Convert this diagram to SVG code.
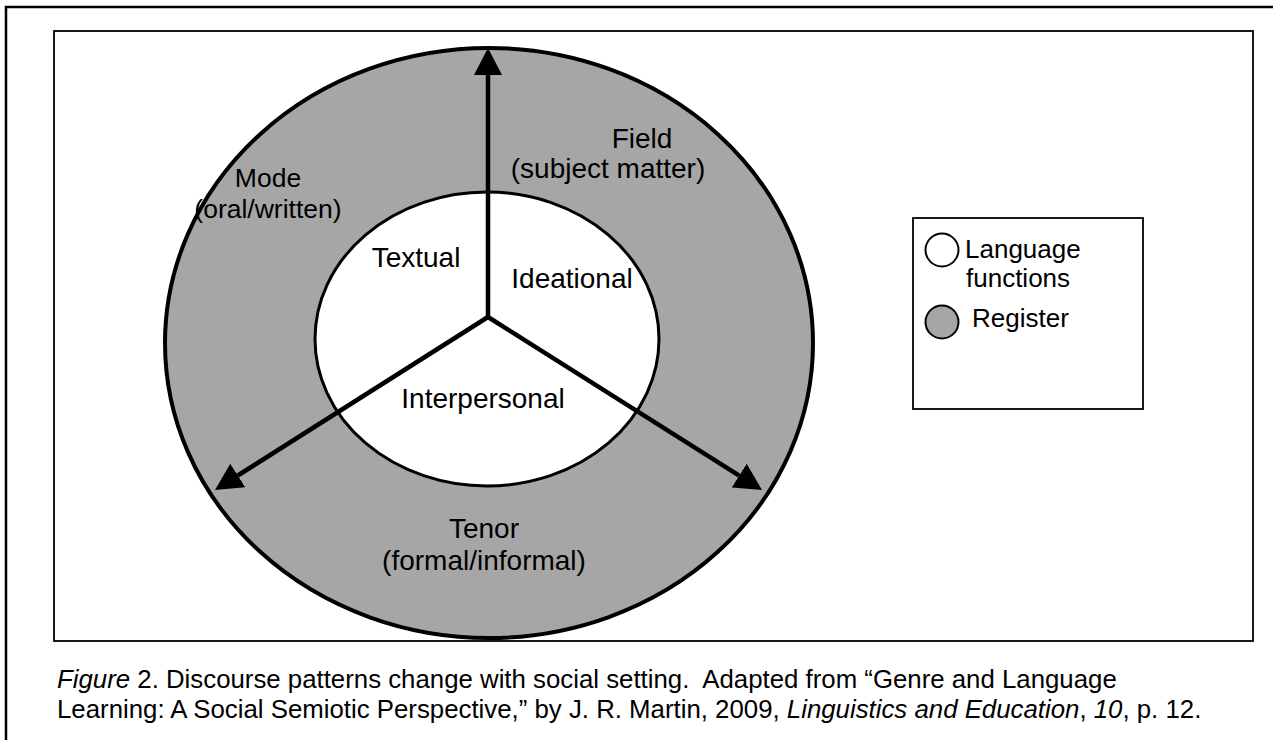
<svg xmlns="http://www.w3.org/2000/svg" width="1273" height="740" viewBox="0 0 1273 740">
  <defs>
    <style>
      .lbl { font-family: "Liberation Sans", Arial, sans-serif; font-size: 28px; fill: #000; text-anchor: middle; }
      .lbl-sm { font-size: 26.5px; }
      .leg { font-family: "Liberation Sans", Arial, sans-serif; font-size: 26px; fill: #000; }
      .cap { font-family: "Liberation Sans", Arial, sans-serif; font-size: 25.8px; fill: #000; white-space: pre; }
      .it { font-style: italic; }
      .shaft { stroke: #000; stroke-width: 4.5; fill: none; }
      .register { fill: #a6a6a6; stroke: #000; stroke-width: 4; }
      .functions { fill: #fff; stroke: #000; stroke-width: 3; }
    </style>
    <marker id="head" markerUnits="userSpaceOnUse" markerWidth="28" markerHeight="28" refX="0" refY="14" orient="auto" viewBox="0 0 28 28">
      <path d="M0,0 L27,14 L0,28 Z" fill="#000"/>
    </marker>
  </defs>

  <rect width="1273" height="740" fill="#fff"/>

  <!-- page border and figure frame -->
  <path d="M6,740 V7 H1273" fill="none" stroke="#000" stroke-width="2.5"/>
  <rect x="54" y="31" width="1199" height="610" fill="none" stroke="#000" stroke-width="1.8"/>

  <!-- register ring -->
  <g id="register">
    <ellipse class="register" cx="489" cy="343" rx="324" ry="295"/>
  </g>
  <!-- language functions -->
  <g id="functions">
    <ellipse class="functions" cx="487" cy="339" rx="172" ry="147"/>
  </g>

  <!-- connectors -->
  <g id="connectors">
    <line class="shaft" x1="488" y1="317" x2="488" y2="75" marker-end="url(#head)"/>
    <line class="shaft" x1="488" y1="317" x2="237.8" y2="475.5" marker-end="url(#head)"/>
    <line class="shaft" x1="488" y1="317" x2="739.2" y2="475.6" marker-end="url(#head)"/>
  </g>

  <g id="mode">
    <text class="lbl lbl-sm" x="268" y="187">Mode</text>
    <text class="lbl lbl-sm" x="268" y="218">(oral/written)</text>
  </g>
  <g id="field">
    <text class="lbl" x="642" y="148">Field</text>
    <text class="lbl" x="608" y="178">(subject matter)</text>
  </g>
  <g id="tenor">
    <text class="lbl" x="484" y="538">Tenor</text>
    <text class="lbl" x="484" y="570">(formal/informal)</text>
  </g>
  <g id="textual">
    <text class="lbl" x="416" y="267">Textual</text>
  </g>
  <g id="ideational">
    <text class="lbl" x="572" y="288">Ideational</text>
  </g>
  <g id="interpersonal">
    <text class="lbl" x="483" y="408">Interpersonal</text>
  </g>

  <!-- legend -->
  <g id="legend">
    <rect x="913" y="218" width="230" height="191" fill="#fff" stroke="#000" stroke-width="1.8"/>
    <circle cx="942" cy="250" r="16.5" fill="#fff" stroke="#000" stroke-width="2"/>
    <text class="leg" x="965" y="258">Language</text>
    <text class="leg" x="966" y="287">functions</text>
    <circle cx="942" cy="322" r="16.5" fill="#a6a6a6" stroke="#000" stroke-width="2"/>
    <text class="leg" x="972" y="327">Register</text>
  </g>

  <!-- caption -->
  <g id="caption">
    <text class="cap" x="57" y="688"><tspan class="it">Figure</tspan> 2. Discourse patterns change with social setting.  Adapted from “Genre and Language</text>
    <text class="cap" x="57" y="718">Learning: A Social Semiotic Perspective,” by J. R. Martin, 2009, <tspan class="it">Linguistics and Education</tspan>, <tspan class="it">10</tspan>, p. 12.</text>
  </g>
</svg>
